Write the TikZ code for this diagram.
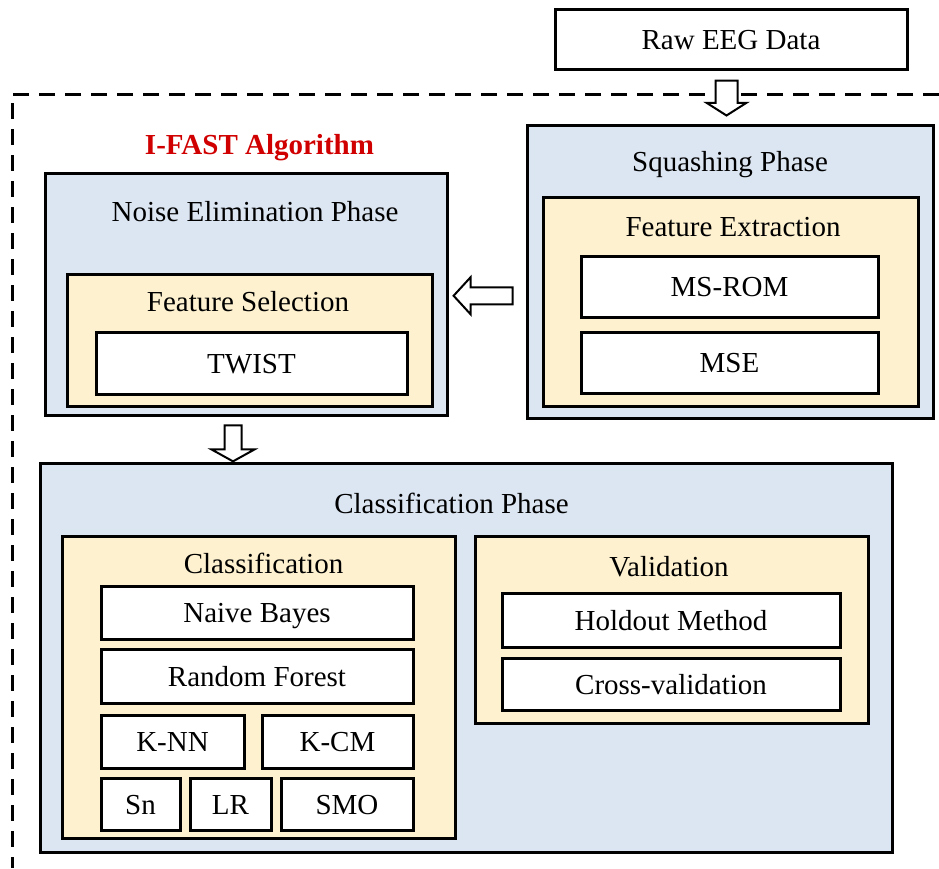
\documentclass[tikz,border=0pt]{standalone}
\usepackage{fontspec}
\setmainfont{Liberation Serif}
\usetikzlibrary{shapes.arrows, positioning, calc}
\definecolor{phaseblue}{HTML}{DCE6F2}
\definecolor{stageyellow}{HTML}{FDF1CF}
\definecolor{algored}{HTML}{D00000}
\tikzstyle{phase} = [rectangle, draw=black, line width=3pt, fill=phaseblue, inner sep=0pt]
\tikzstyle{stage} = [rectangle, draw=black, line width=3pt, fill=stageyellow, inner sep=0pt]
\tikzstyle{method} = [rectangle, draw=black, line width=3pt, fill=white, inner sep=0pt, text height=20pt, text depth=0pt, text centered]
\tikzstyle{title} = [inner sep=0pt, anchor=base]
\tikzstyle{hollow} = [single arrow, draw=black, line width=2pt, fill=white, inner xsep=0pt, minimum width=0pt]
\tikzstyle{frame} = [line width=3pt, dash pattern=on 16pt off 10pt]

\begin{document}
\begin{tikzpicture}[x=1pt, y=-1pt, every node/.style={font=\fontsize{29}{34}\selectfont}]
		\useasboundingbox (0,0) rectangle (939,868);
		\draw [frame] (939,94) -- (12,94) -- (12,868);

		\node (raw) [method, minimum width=352pt, minimum height=60pt] at (731,39) {Raw EEG Data};
		\node (algo) [title, text=algored, font=\fontsize{29}{34}\selectfont\bfseries] at (259.5,154) {I-FAST Algorithm};

		% squashing phase
		\node (squash) [phase, minimum width=406pt, minimum height=293pt] at (730,271.5) {};
		\node (squashtitle) [title] at (730,171) {Squashing Phase};
		\node (fext) [stage, minimum width=375pt, minimum height=209pt] at (730.5,301.5) {};
		\node (fexttitle) [title] at (733,236) {Feature Extraction};
		\node (msrom) [method, minimum width=297pt, minimum height=61pt] at (729.5,286.5) {MS-ROM};
		\node (mse) [method, minimum width=297pt, minimum height=61pt] at (729.5,362.5) {MSE};

		% noise elimination phase
		\node (noise) [phase, minimum width=402pt, minimum height=242pt] at (246,294) {};
		\node (noisetitle) [title] at (255,221) {Noise Elimination Phase};
		\node (fsel) [stage, minimum width=365pt, minimum height=132pt] at (249.5,340) {};
		\node (fseltitle) [title] at (248,311) {Feature Selection};
		\node (twist) [method, minimum width=311pt, minimum height=62pt] at (251.5,363) {TWIST};

		% classification phase
		\node (cphase) [phase, minimum width=852pt, minimum height=389pt] at (466,657.5) {};
		\node (cphasetitle) [title] at (451.5,513) {Classification Phase};
		\node (cls) [stage, minimum width=393pt, minimum height=302pt] at (258.5,687) {};
		\node (clstitle) [title] at (263.5,573) {Classification};
		\node (nb) [method, minimum width=312pt, minimum height=53pt] at (257,612.5) {Naive Bayes};
		\node (rf) [method, minimum width=312pt, minimum height=54pt] at (257,676) {Random Forest};
		\node (knn) [method, minimum width=143pt, minimum height=53pt] at (172.5,741.5) {K-NN};
		\node (kcm) [method, minimum width=151pt, minimum height=53pt] at (337.5,741.5) {K-CM};
		\node (sn) [method, minimum width=79pt, minimum height=52pt] at (140.5,804) {Sn};
		\node (lr) [method, minimum width=81pt, minimum height=52pt] at (230.5,804) {LR};
		\node (smo) [method, minimum width=132pt, minimum height=52pt] at (347,804) {SMO};
		\node (val) [stage, minimum width=393pt, minimum height=187pt] at (671.5,629.5) {};
		\node (valtitle) [title] at (669,576) {Validation};
		\node (hold) [method, minimum width=338pt, minimum height=54pt] at (671,620) {Holdout Method};
		\node (cv) [method, minimum width=338pt, minimum height=52pt] at (671,684) {Cross-validation};

		% hollow arrows between the phases
		\node (rawarrow) [hollow, rotate=-90, minimum height=35pt, inner ysep=10pt, single arrow head extend=9pt, single arrow tip angle=115] at ($(raw.south)!0.5!(squash.north)+(-4,-2.5)$) {};
		\node (squasharrow) [hollow, rotate=180, minimum height=59pt, inner ysep=7.5pt, single arrow head extend=10pt, single arrow tip angle=95] at ($(noise.east)!0.5!(squash.west)+(0,13)$) {};
		\node (noisearrow) [hollow, rotate=-90, minimum height=36pt, inner ysep=7.5pt, single arrow head extend=13pt, single arrow tip angle=122] at ($(noise.south)!0.5!(noise.south |- cphase.north)+(-13,2)$) {};
	  \end{tikzpicture}
\end{document}
